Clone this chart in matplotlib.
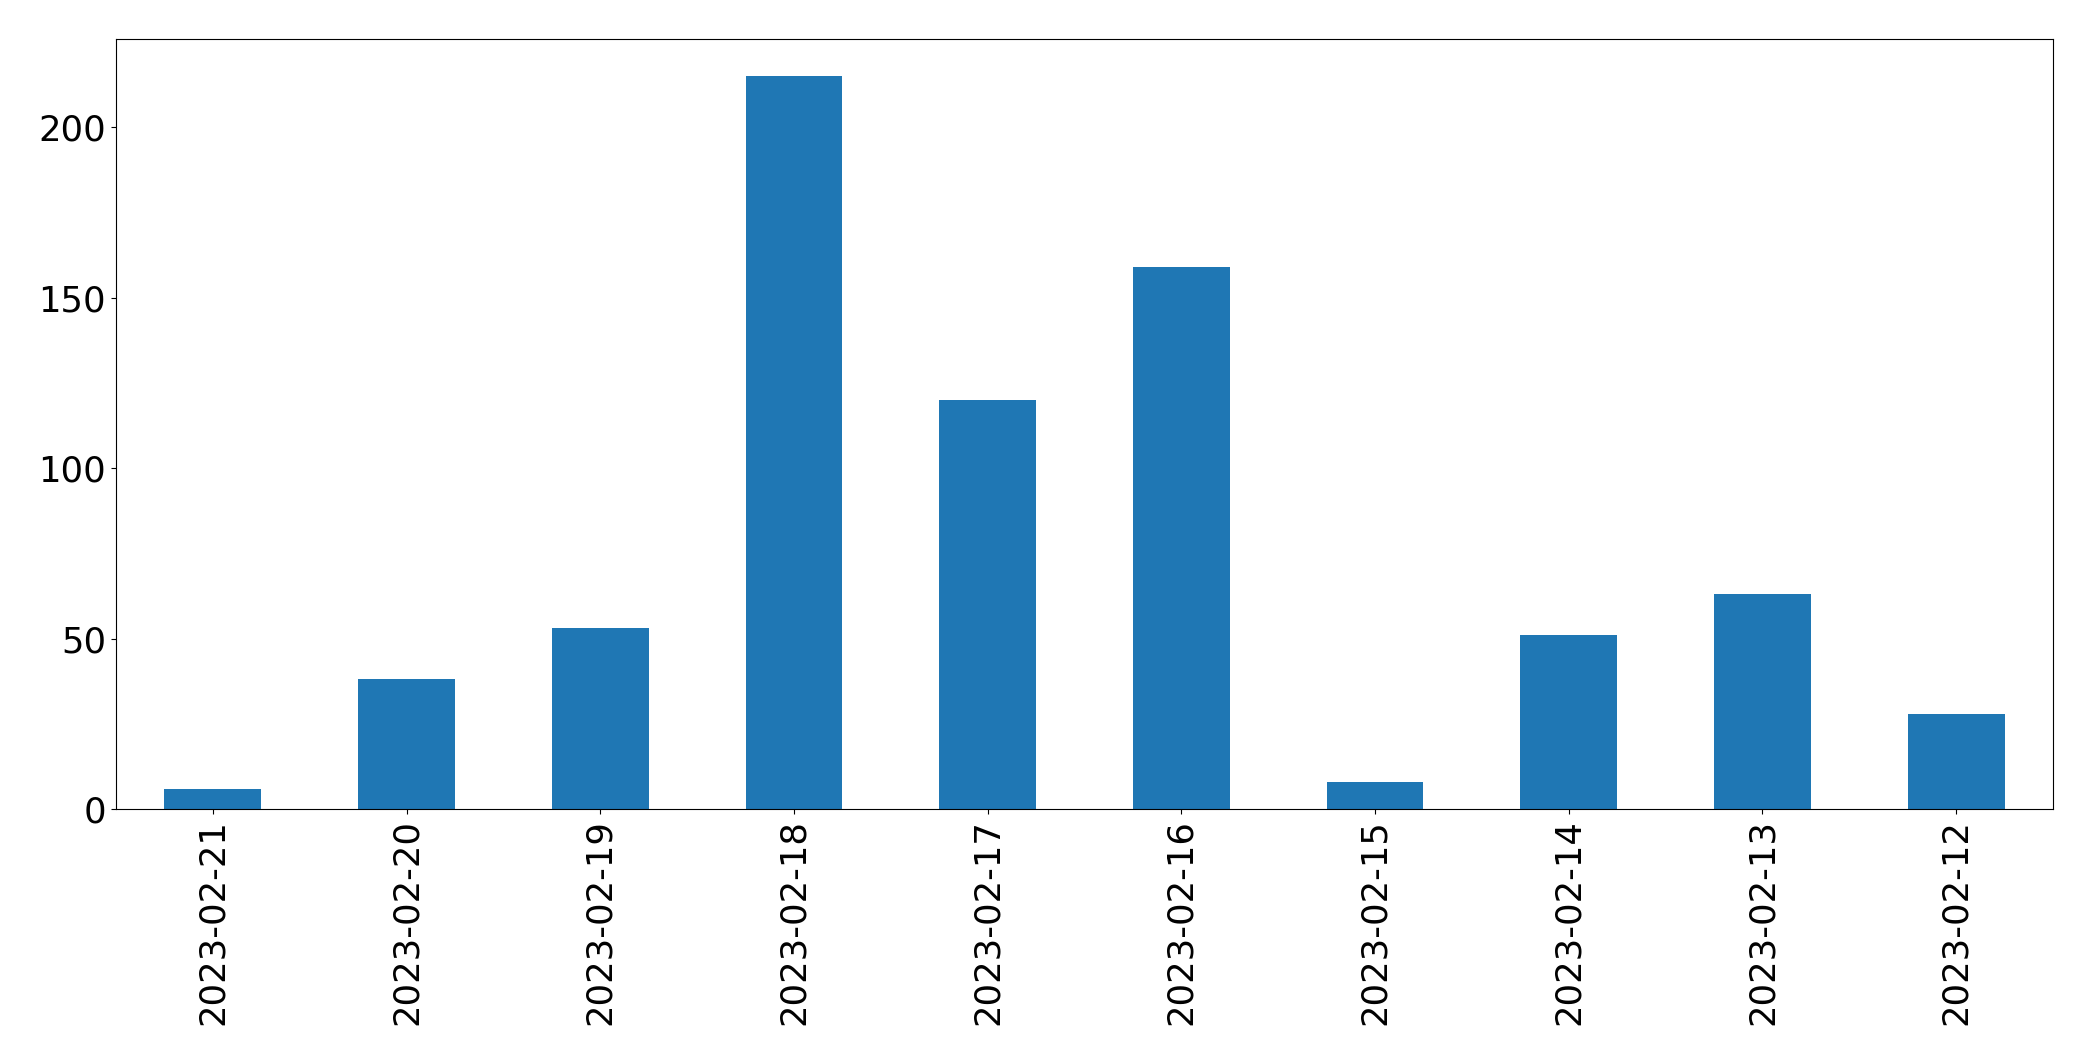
from matplotlib import pyplot as plt

dates = [
    "2023-02-21", "2023-02-20", "2023-02-19", "2023-02-18", "2023-02-17",
    "2023-02-16", "2023-02-15", "2023-02-14", "2023-02-13", "2023-02-12",
]
counts = [6, 38, 53, 215, 120, 159, 8, 51, 63, 28]

fig = plt.figure(figsize=(20.93, 10.61), dpi=100)
ax = fig.add_axes([0.0554, 0.2375, 0.9255, 0.7255])

positions = list(range(len(dates)))
ax.bar(positions, counts, width=0.5, color="#1f77b4")
ax.set_xlim(-0.5, len(dates) - 0.5)
ax.set_xticks(positions)
ax.set_xticklabels(dates, rotation=90)
ax.set_yticks([0, 50, 100, 150, 200])
ax.tick_params(axis="both", labelsize=25.5)
for spine in ax.spines.values():
    spine.set_color("black")

plt.savefig("out.png", dpi=100)
